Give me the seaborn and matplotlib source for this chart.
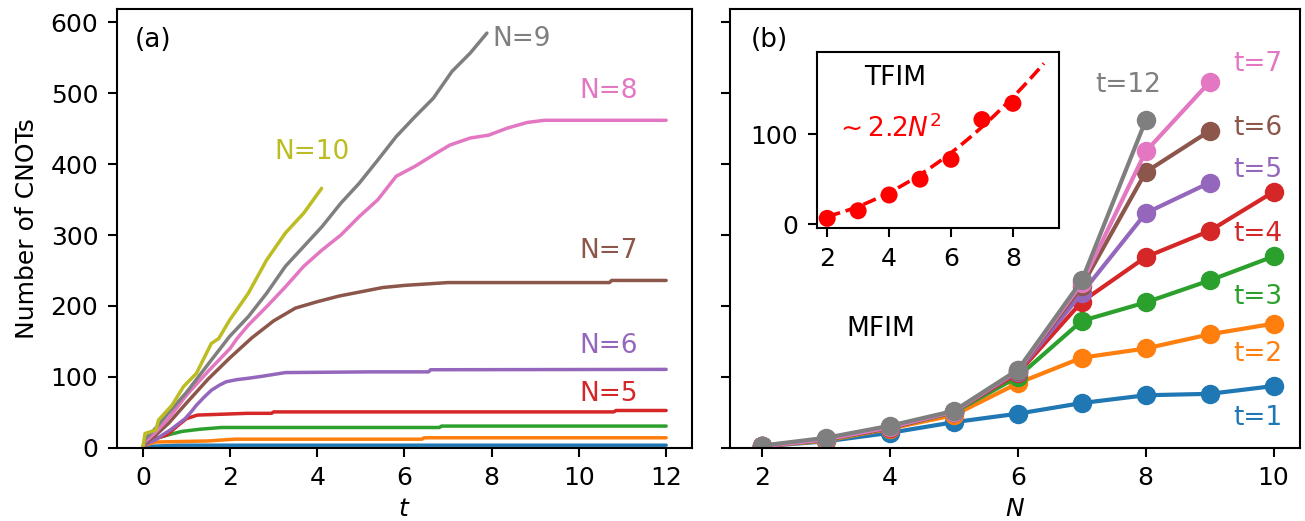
import numpy as np
import matplotlib
matplotlib.use("Agg")
import matplotlib.pyplot as plt
import seaborn as sns

# ---- left panel: number of CNOTs vs time t, one curve per N ----
t_n2 = [0, 0.2, 0.8, 12]
c_n2 = [0, 2, 3.5, 3.5]
t_n3 = [0, 0.08, 0.3, 1.5, 2.1, 6.4, 6.45, 12]
c_n3 = [0, 4, 8, 9.5, 12, 12, 14, 14]
t_n4 = [0, 0.05, 0.4, 0.7, 0.9, 1.3, 1.8, 6.8, 6.85, 12]
c_n4 = [0, 8, 15, 20, 23, 26, 28.5, 28.5, 30.5, 30.5]
t_n5 = [0, 0.06, 0.55, 0.78, 1.0, 1.25, 2.4, 2.95, 3.0, 10.8, 10.85, 12]
c_n5 = [0, 8, 18, 30, 41, 46, 48.5, 48.5, 50.5, 50.5, 52.5, 52.5]
t_n6 = [0, 0.1, 0.29, 0.45, 0.63, 0.8, 0.97, 1.1, 1.23, 1.4, 1.57, 1.75, 1.91,
        2.15, 2.42, 2.76, 3.27, 5.22, 6.55, 6.6, 12]
c_n6 = [0, 6, 11, 18, 25, 33, 41, 50, 60, 71, 81, 88, 93,
        96, 98, 101, 106, 107, 107, 110, 110.5]
t_n7 = [0, 0.05, 0.3, 0.6, 1.0, 1.5, 2.0, 2.5, 3.0, 3.5, 4.0, 4.5, 5.0, 5.5,
        6.0, 7.0, 10.7, 10.75, 12]
c_n7 = [0, 6, 18, 35, 63, 97, 127, 155, 179, 197, 206, 214, 220, 226,
        229, 233, 233, 236, 236]
t_n8 = [0, 0.05, 0.3, 0.6, 1.0, 1.5, 2.0, 2.16, 2.42, 2.84, 3.27, 3.69, 4.11,
        4.54, 4.96, 5.39, 5.81, 6.24, 6.66, 7.04, 7.51, 7.93, 8.36, 8.82, 9.21, 12]
c_n8 = [0, 8, 22, 42, 74, 108, 140, 154, 173, 199, 227, 256, 279,
        300, 326, 350, 383, 397, 413, 427, 437, 441, 451, 459, 462, 462]
t_n9 = [0, 0.05, 0.3, 0.6, 1.0, 1.5, 1.99, 2.42, 2.84, 3.27, 3.69, 4.11, 4.54,
        4.96, 5.39, 5.81, 6.24, 6.66, 7.09, 7.51, 7.89]
c_n9 = [0, 12, 28, 50, 78, 118, 157, 185, 218, 256, 284, 312, 345,
        373, 406, 439, 467, 493, 531, 557, 585]
t_n10 = [0, 0.05, 0.3, 0.36, 0.67, 0.93, 1.23, 1.57, 1.74, 1.99, 2.42, 2.84,
         3.27, 3.69, 4.10]
c_n10 = [0, 20, 25, 39, 60, 86, 105, 147, 154, 180, 218, 265, 303, 331, 366]

left_t = [t_n2, t_n3, t_n4, t_n5, t_n6, t_n7, t_n8, t_n9, t_n10]
left_c = [c_n2, c_n3, c_n4, c_n5, c_n6, c_n7, c_n8, c_n9, c_n10]
left_names = ["N=2", "N=3", "N=4", "N=5", "N=6", "N=7", "N=8", "N=9", "N=10"]

# ---- right panel: number of CNOTs vs N, one curve per t ----
n_vals = [2, 3, 4, 5, 6, 7, 8, 9, 10]
c_t1 = [2, 9, 21, 36, 48, 63, 74, 76, 87]
c_t2 = [2, 10, 27, 46, 91, 127, 140, 160, 175]
c_t3 = [2, 11, 28, 50, 100, 179, 205, 236, 270]
c_t4 = [2, 12, 28, 51, 105, 206, 269, 306, 361]
c_t5 = [2, 12, 29, 51, 107, 218, 331, 374]
c_t6 = [2, 12, 29, 51, 108, 228, 389, 447]
c_t7 = [2, 12, 29, 51, 109, 232, 418, 516]
c_t12 = [3, 14, 31, 52, 110, 236, 462]
right_c = [c_t1, c_t2, c_t3, c_t4, c_t5, c_t6, c_t7, c_t12]
right_names = ["t=1", "t=2", "t=3", "t=4", "t=5", "t=6", "t=7", "t=12"]

# ---- inset: TFIM ----
tf_n = [2, 3, 4, 5, 6, 7, 8]
tf_c = [6.6, 15, 32.5, 50, 72, 116, 134]
fit_coef = 2.2

palette = sns.color_palette("tab10")

sns.set_style("ticks", {"axes.edgecolor": "black", "xtick.color": "black",
                        "ytick.color": "black", "text.color": "black",
                        "axes.labelcolor": "black"})
plt.rcParams.update({
    "font.family": ["DejaVu Sans"],
    "font.size": 18,
    "axes.linewidth": 1.5,
    "xtick.major.size": 6.7, "ytick.major.size": 6.7,
    "xtick.major.width": 1.5, "ytick.major.width": 1.5,
    "xtick.major.pad": 6.5, "ytick.major.pad": 6.5,
    "xtick.labelsize": 18, "ytick.labelsize": 18,
    "axes.labelsize": 18, "axes.labelpad": 7,
})

fig = plt.figure(figsize=(13.05, 5.21), dpi=100)
ax1 = fig.add_axes([0.0894, 0.1407, 0.4411, 0.842])
ax2 = fig.add_axes([0.5596, 0.1407, 0.4369, 0.842], sharey=ax1)

# left panel
for i, (tt, cc) in enumerate(zip(left_t, left_c)):
    sns.lineplot(x=tt, y=cc, color=palette[i], lw=2.5, ax=ax1,
                 estimator=None, sort=False)

label_pos = {"N=10": (3.89, 417), "N=9": (8.68, 577), "N=8": (10.68, 503),
             "N=7": (10.68, 277), "N=6": (10.68, 144), "N=5": (10.68, 76)}
for i, name in enumerate(left_names):
    if name in label_pos:
        x, y = label_pos[name]
        ax1.text(x, y, name, color=palette[i], fontsize=19,
                 ha="center", va="center")

ax1.text(0.032, 0.929, "(a)", transform=ax1.transAxes, fontsize=19,
         ha="left", va="center")
ax1.set_xlim(-0.6, 12.6)
ax1.set_ylim(0, 619)
ax1.set_xticks([0, 2, 4, 6, 8, 10, 12])
ax1.set_yticks([0, 100, 200, 300, 400, 500, 600])
ax1.set_xlabel("$t$", labelpad=5)
ax1.set_ylabel("Number of CNOTs", labelpad=8)

# right panel
right_colors = [palette[0], palette[1], palette[2], palette[3],
                palette[4], palette[5], palette[6], palette[7]]
for col, cc in zip(right_colors, right_c):
    sns.lineplot(x=n_vals[:len(cc)], y=cc, color=col, lw=3, marker="o",
                 markersize=14, markeredgewidth=0, ax=ax2,
                 estimator=None, sort=False)

rlabel_pos = {"t=1": (9.75, 42), "t=2": (9.75, 132), "t=3": (9.75, 213),
              "t=4": (9.75, 302), "t=5": (9.75, 392), "t=6": (9.75, 451),
              "t=7": (9.75, 542), "t=12": (7.72, 512)}
for col, name in zip(right_colors, right_names):
    x, y = rlabel_pos[name]
    ax2.text(x, y, name, color=col, fontsize=19, ha="center", va="center")

ax2.text(3.86, 168, "MFIM", fontsize=19, ha="center", va="center")
ax2.text(0.036, 0.929, "(b)", transform=ax2.transAxes, fontsize=19,
         ha="left", va="center")
ax2.set_xlim(1.5, 10.42)
ax2.set_xticks([2, 4, 6, 8, 10])
ax2.tick_params(axis="y", labelleft=False)
ax2.set_xlabel("$N$", labelpad=5)

# inset
axin = fig.add_axes([0.6258, 0.5618, 0.1857, 0.3378])
fit_n = np.linspace(2, 9, 50)
sns.lineplot(x=fit_n, y=fit_coef * fit_n ** 2, color="red", lw=2.6,
             linestyle="--", ax=axin, estimator=None)
sns.scatterplot(x=tf_n, y=tf_c, color="red", s=150, edgecolor="none",
                ax=axin, zorder=3)
axin.text(4.21, 162, "TFIM", fontsize=19, ha="center", va="center")
axin.text(3.96, 106, r"$\sim 2.2N^2$", color="red", fontsize=19,
          ha="center", va="center")
axin.set_xlim(1.66, 9.49)
axin.set_ylim(-4.4, 190.5)
axin.set_xticks([2, 4, 6, 8])
axin.set_yticks([0, 100])

fig.savefig("out.png", dpi=100)
